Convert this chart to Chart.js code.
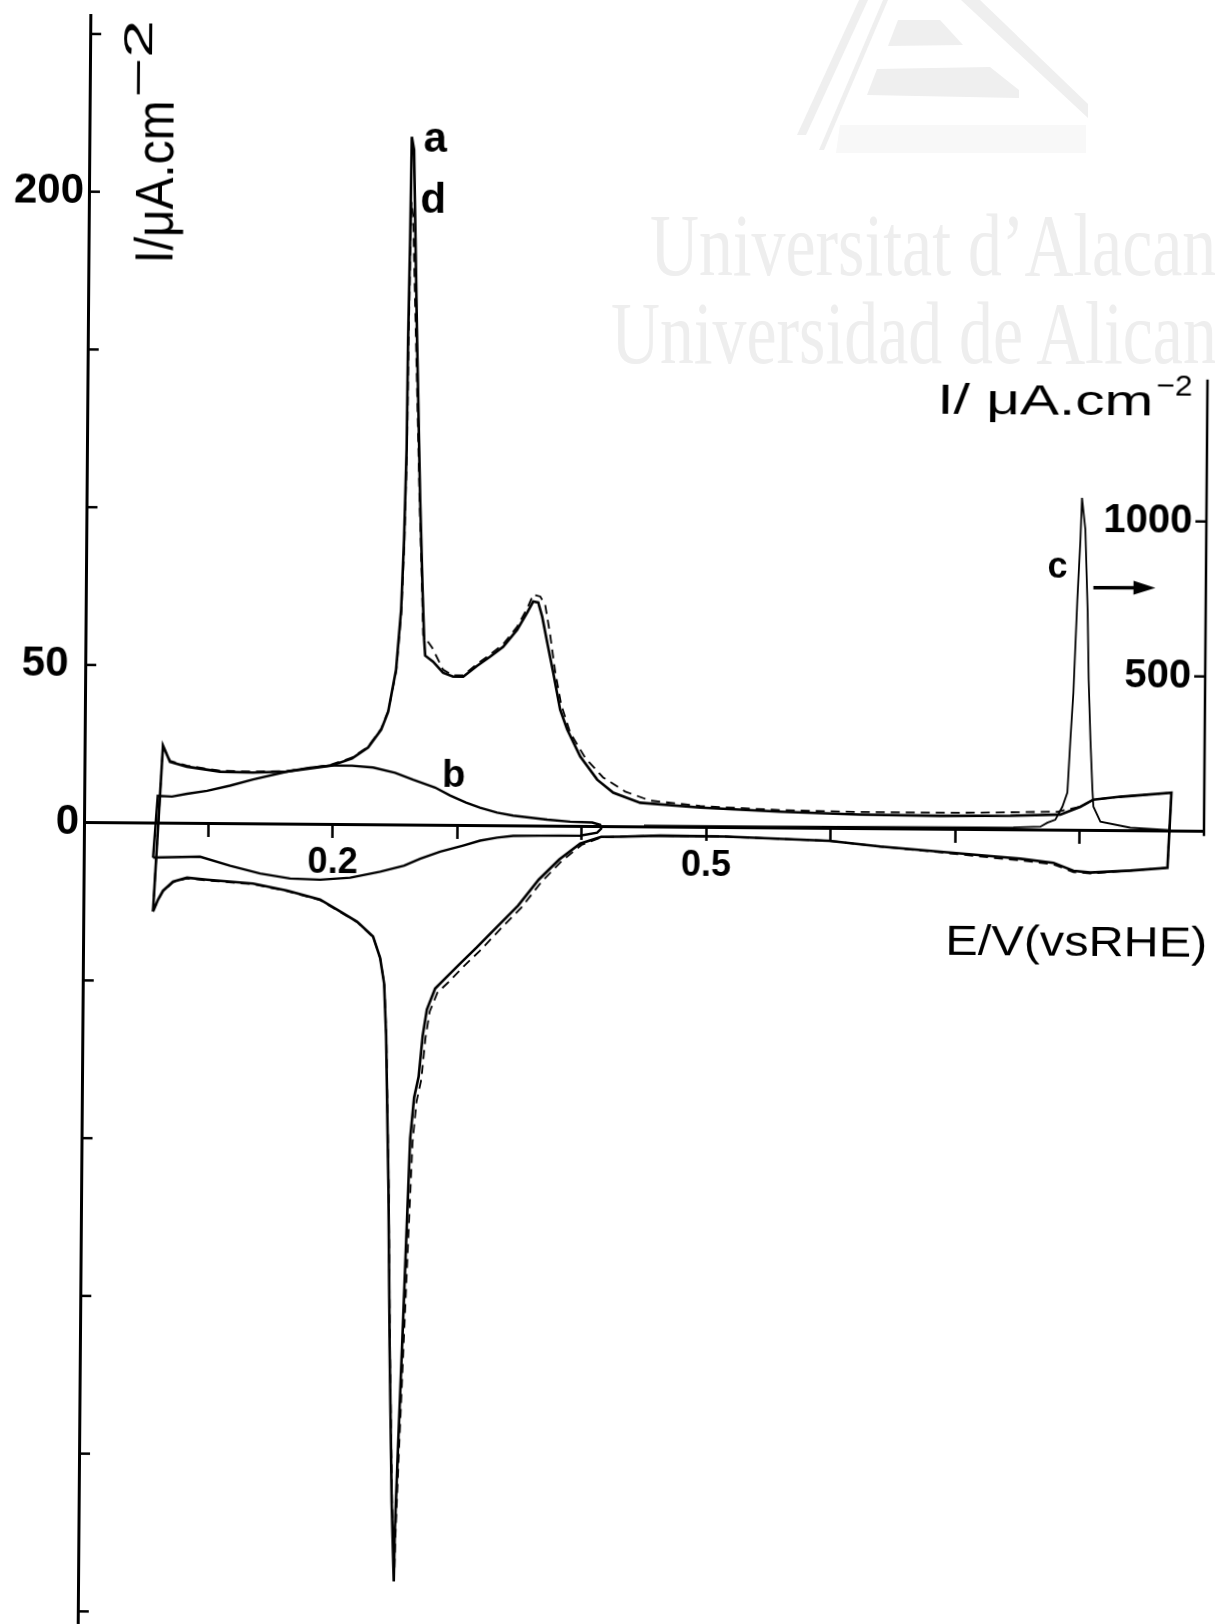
<!DOCTYPE html>
<html>
<head>
<meta charset="utf-8">
<title>Cyclic voltammograms a-d</title>
<script src="https://cdn.jsdelivr.net/npm/chart.js@4.4.1/dist/chart.umd.min.js"></script>
<style>
  html, body { margin: 0; padding: 0; background: #fff; overflow: hidden; }
  #wrap { position: relative; width: 1215px; height: 1624px; }
  #mark { position: absolute; left: 0; top: 0; }
  #chart { position: absolute; left: 0; top: 0; transform: rotate(0.45deg); transform-origin: 84px 823px; }
</style>
</head>
<body>
<div id="wrap">
  <svg id="mark" width="1215" height="1624">
    <g fill="#efefef">
      <polygon points="797,135 806,135 868,0 859,0"/>
      <polygon points="819,150 824,150 888,0 883,0"/>
      <polygon points="898,20 940,20 963,45 888,46"/>
      <polygon points="877,69 990,67 1019,90 1019,98 867,95"/>
      <polygon points="961,0 980,0 1088,104 1088,118"/>
    </g>
    <polygon points="840,125 1086,125 1086,153 836,153" fill="#f8f8f8"/>
    <text transform="translate(650,274.5) scale(0.77,1)" font-family="Liberation Serif" font-size="88" fill="#eeeeee">Universitat d’Alacant</text>
    <text transform="translate(611,362.5) scale(0.77,1)" font-family="Liberation Serif" font-size="88" fill="#eeeeee">Universidad de Alicante</text>
  </svg>
  <canvas id="chart" width="1215" height="1624"></canvas>
</div>
<script>
// E in V (vs RHE), I in uA cm-2

// curve a (solid), starts at the lower potential limit
const aE = [0.0560, 0.0630, 0.0687, 0.0824, 0.1090, 0.1355, 0.1629, 0.1813, 0.1982, 0.2150,
  0.2278, 0.2382, 0.2437, 0.2498, 0.2535, 0.2554, 0.2569, 0.2574, 0.2584, 0.2591,
  0.2610, 0.2646, 0.2681, 0.2706, 0.2722, 0.2731, 0.2795, 0.2876, 0.2957, 0.3038,
  0.3149, 0.3253, 0.3357, 0.3468, 0.3548, 0.3595, 0.3636, 0.3669, 0.3711, 0.3761,
  0.3819, 0.3877, 0.3983, 0.4121, 0.4251, 0.4468, 0.4951, 0.5594, 0.6238, 0.6881,
  0.7443, 0.7845, 0.8005, 0.8110, 0.8326, 0.8736, 0.8709, 0.8411, 0.8090, 0.7953,
  0.7792, 0.7526, 0.7341, 0.6883, 0.6400, 0.5990, 0.5154, 0.4631, 0.4309, 0.4157,
  0.3988, 0.3821, 0.3658, 0.3494, 0.3327, 0.3163, 0.3039, 0.2912, 0.2832, 0.2767,
  0.2735, 0.2705, 0.2670, 0.2641, 0.2615, 0.2589, 0.2562, 0.2542, 0.2537, 0.2515,
  0.2489, 0.2470, 0.2441, 0.2422, 0.2388, 0.2330, 0.2201, 0.2039, 0.1902, 0.1636,
  0.1362, 0.0992, 0.0831, 0.0719, 0.0639, 0.0600, 0.0560];
const aI = [-28.0, 24.6, 19.5, 18.0, 16.5, 16.3, 16.7, 17.7, 18.7, 21.0,
  24.5, 30.2, 35.9, 49.3, 68.3, 90.5, 119.0, 153.9, 185.6, 218.2,
  214.1, 153.9, 103.2, 74.7, 58.8, 53.8, 51.9, 48.4, 47.2, 47.2,
  50.7, 53.6, 56.8, 62.2, 67.7, 71.2, 70.9, 66.4, 58.2, 48.7,
  37.0, 30.7, 22.2, 14.9, 10.8, 7.7, 6.3, 5.2, 4.5, 4.3,
  4.5, 5.0, 7.5, 9.8, 10.8, 12.2, -11.6, -12.6, -13.3, -12.8,
  -10.3, -9.1, -8.5, -7.1, -5.6, -3.9, -2.8, -2.7, -3.1, -3.2,
  -5.4, -10.5, -16.9, -25.2, -31.9, -38.6, -43.4, -48.5, -51.7, -58.4,
  -66.7, -79.7, -86.3, -99.3, -132.3, -165.1, -198.0, -224.3, -239.7, -214.4,
  -165.2, -115.9, -66.8, -50.3, -42.1, -35.4, -30.7, -26.9, -23.8, -21.0,
  -18.9, -17.8, -17.2, -18.5, -21.4, -24.2, -28.0];

// curve d (dashed)
const dE = [0.0560, 0.0630, 0.0687, 0.0824, 0.1090, 0.1355, 0.1629, 0.1813, 0.1982, 0.2150,
  0.2278, 0.2382, 0.2440, 0.2500, 0.2538, 0.2557, 0.2572, 0.2578, 0.2586, 0.2593,
  0.2606, 0.2640, 0.2676, 0.2702, 0.2713, 0.2787, 0.2876, 0.2957, 0.3038, 0.3149,
  0.3253, 0.3357, 0.3468, 0.3548, 0.3595, 0.3652, 0.3692, 0.3734, 0.3777, 0.3827,
  0.3901, 0.4023, 0.4169, 0.4347, 0.4548, 0.4951, 0.5594, 0.6238, 0.6881, 0.7202,
  0.7821, 0.8005, 0.8110, 0.8326, 0.8736, 0.8709, 0.8411, 0.8090, 0.7953, 0.7792,
  0.7526, 0.7341, 0.6883, 0.6400, 0.5990, 0.5154, 0.4631, 0.4309, 0.4157, 0.4000,
  0.3840, 0.3680, 0.3520, 0.3350, 0.3190, 0.3060, 0.2935, 0.2850, 0.2790, 0.2757,
  0.2727, 0.2690, 0.2660, 0.2630, 0.2600, 0.2570, 0.2548, 0.2540, 0.2518, 0.2491,
  0.2472, 0.2443, 0.2424, 0.2390, 0.2332, 0.2203, 0.2040, 0.1903, 0.1637, 0.1362,
  0.0992, 0.0831, 0.0719, 0.0639, 0.0600, 0.0560];
const dI = [-28.0, 24.6, 19.8, 18.3, 16.8, 16.6, 16.9, 17.9, 19.0, 21.3,
  24.8, 30.5, 36.5, 49.0, 68.0, 90.0, 119.0, 153.0, 180.0, 197.6,
  193.0, 150.0, 103.0, 74.5, 60.4, 56.3, 49.4, 47.6, 47.6, 51.3,
  54.3, 57.6, 63.2, 69.0, 73.4, 72.8, 70.2, 60.7, 49.0, 38.6,
  29.7, 21.8, 15.6, 11.2, 8.4, 6.8, 5.7, 5.3, 5.3, 5.4,
  5.9, 7.5, 9.8, 10.8, 12.2, -11.6, -12.6, -13.6, -13.2, -10.8,
  -9.6, -9.0, -7.3, -5.6, -3.9, -2.8, -2.7, -3.1, -3.4, -5.8,
  -11.0, -17.6, -25.8, -32.8, -39.6, -44.6, -49.8, -53.0, -59.0, -67.5,
  -80.5, -87.5, -100.5, -133.0, -166.0, -199.0, -225.0, -238.0, -214.0, -165.0,
  -116.0, -67.0, -50.6, -42.4, -35.6, -30.9, -27.1, -24.0, -21.2, -19.1,
  -18.0, -17.4, -18.7, -21.6, -24.4, -28.0];

// curve b (solid, small)
const bE = [0.0557, 0.0591, 0.0706, 0.0826, 0.0987, 0.1171, 0.1356, 0.1629, 0.1813, 0.1982,
  0.2151, 0.2320, 0.2497, 0.2642, 0.2819, 0.2940, 0.3069, 0.3182, 0.3319, 0.3448,
  0.3722, 0.3907, 0.4084, 0.4148, 0.4156, 0.4124, 0.3988, 0.3666, 0.3449, 0.3321,
  0.3184, 0.3048, 0.2864, 0.2703, 0.2575, 0.2383, 0.2142, 0.1901, 0.1659, 0.1418,
  0.1177, 0.0935, 0.0557];
const bI = [-10.9, 8.7, 8.5, 9.4, 10.4, 12.1, 14.1, 16.7, 18.0, 18.7,
  18.7, 18.2, 16.6, 14.4, 12.0, 9.5, 7.3, 5.7, 4.2, 3.3,
  2.1, 1.5, 1.3, 0.6, -0.6, -1.9, -2.9, -3.0, -3.1, -3.7,
  -4.7, -6.3, -8.3, -10.6, -12.8, -14.8, -16.8, -17.5, -17.2, -15.7,
  -13.3, -10.5, -10.9];

// curve c, plotted on the right hand axis
const cE = [0.450, 0.550, 0.650, 0.720, 0.7468, 0.7685, 0.7741, 0.7805, 0.7861, 0.7900,
  0.7921, 0.7942, 0.7968, 0.7989, 0.7999, 0.8028, 0.8052, 0.8064, 0.8082, 0.8101,
  0.8110, 0.8167, 0.8408, 0.8731];
const cI = [5, 5, 6, 7, 8, 11, 24, 34, 76, 122,
  293, 444, 745, 938, 1073, 971, 703, 487, 293, 132,
  77, 29, 10, 3];

// axes
const xTicks = [0.1, 0.2, 0.3, 0.4, 0.5, 0.6, 0.7, 0.8];
const xLabelled = [0.2, 0.5];
const yTickMarks = [-250, -200, -150, -100, -50, 0, 50, 100, 150, 200, 250];
const yLabelled = [0, 50, 200];
const y2Ticks = [500, 1000];
const y2Line = [-15, 1458];

const FONT = '"Liberation Sans", Arial, sans-serif';

const pts = (E, I) => E.map((e, i) => ({x: e, y: I[i]}));

// no automatic label padding, the plot area is fixed by the layout padding
const noPad = s => { s.paddingTop = 0; s.paddingBottom = 0; s.paddingLeft = 0; s.paddingRight = 0; };

// draw text stretched to a given width
function fitText(ctx, text, x, y, width, angle) {
  const w = ctx.measureText(text).width;
  ctx.save();
  ctx.translate(x, y);
  if (angle) ctx.rotate(angle);
  ctx.scale(width / w, 1);
  ctx.fillText(text, 0, 0);
  ctx.restore();
}

const extras = {
  id: 'extras',
  afterDraw(chart) {
    const {ctx, chartArea: area, scales: {x, y, y2}} = chart;
    ctx.save();
    ctx.strokeStyle = '#000';
    ctx.fillStyle = '#000';
    ctx.lineCap = 'butt';

    // inward ticks on the left axis
    ctx.lineWidth = 2.5;
    yTickMarks.forEach(v => {
      const py = y.getPixelForValue(v);
      ctx.beginPath();
      ctx.moveTo(area.left, py);
      ctx.lineTo(area.left + 11, py);
      ctx.stroke();
    });

    // short right axis for curve c
    ctx.lineWidth = 2.5;
    ctx.beginPath();
    ctx.moveTo(area.right, y2.getPixelForValue(y2Line[0]));
    ctx.lineTo(area.right, y2.getPixelForValue(y2Line[1]));
    ctx.stroke();
    ctx.font = 'bold 40px ' + FONT;
    ctx.textAlign = 'right';
    ctx.textBaseline = 'middle';
    y2Ticks.forEach(v => {
      const py = y2.getPixelForValue(v);
      ctx.beginPath();
      ctx.moveTo(area.right - 11, py);
      ctx.lineTo(area.right, py);
      ctx.stroke();
      ctx.fillText(String(v), area.right - 14, py);
    });

    // curve letters
    ctx.textAlign = 'center';
    ctx.textBaseline = 'alphabetic';
    [['a', 0.2779, 213.6, 42], ['d', 0.2767, 194.2, 42], ['b', 0.2968, 12.3, 38], ['c', 0.7806, 80.1, 36]]
      .forEach(([t, e, i, s]) => {
        ctx.font = 'bold ' + s + 'px ' + FONT;
        ctx.fillText(t, x.getPixelForValue(e), y.getPixelForValue(i));
      });

    // arrow: c belongs to the right axis
    const ax0 = x.getPixelForValue(0.8096), ax1 = x.getPixelForValue(0.8595);
    const ay0 = y.getPixelForValue(77.0), ay1 = y.getPixelForValue(77.1);
    ctx.lineWidth = 3.5;
    ctx.beginPath();
    ctx.moveTo(ax0, ay0);
    ctx.lineTo(ax1 - 14, ay1);
    ctx.stroke();
    ctx.beginPath();
    ctx.moveTo(ax1, ay1);
    ctx.lineTo(ax1 - 22, ay1 - 7);
    ctx.lineTo(ax1 - 22, ay1 + 7);
    ctx.closePath();
    ctx.fill();

    // axis titles
    ctx.textAlign = 'left';
    ctx.font = '54px ' + FONT;
    fitText(ctx, 'I/μA.cm', x.getPixelForValue(0.0672), y.getPixelForValue(177.4), 163, -Math.PI / 2);
    ctx.font = '40px ' + FONT;
    fitText(ctx, '−2', x.getPixelForValue(0.0500), y.getPixelForValue(229.9), 78, -Math.PI / 2);

    ctx.font = '42px ' + FONT;
    fitText(ctx, 'I/ μA.cm', x.getPixelForValue(0.6831), y.getPixelForValue(131.8), 216);
    ctx.font = '30px ' + FONT;
    fitText(ctx, '−2', x.getPixelForValue(0.8590), y.getPixelForValue(138.0), 36);

    ctx.font = '42px ' + FONT;
    fitText(ctx, 'E/V(vsRHE)', x.getPixelForValue(0.6929), y.getPixelForValue(-39.7), 262);

    ctx.restore();
  }
};

const line = {showLine: true, pointRadius: 0, borderColor: '#000', backgroundColor: '#000', tension: 0, fill: false};

new Chart(document.getElementById('chart'), {
  type: 'scatter',
  data: {
    datasets: [
      Object.assign({label: 'a', data: pts(aE, aI), borderWidth: 2.6, yAxisID: 'y'}, line),
      Object.assign({label: 'd', data: pts(dE, dI), borderWidth: 1.8, borderDash: [9, 6], yAxisID: 'y'}, line),
      Object.assign({label: 'b', data: pts(bE, bI), borderWidth: 2.4, yAxisID: 'y'}, line),
      Object.assign({label: 'c', data: pts(cE, cI), borderWidth: 1.8, yAxisID: 'y2'}, line)
    ]
  },
  options: {
    responsive: false,
    animation: false,
    devicePixelRatio: 1,
    layout: {autoPadding: false, padding: {left: 0, right: 11, top: 15, bottom: 0}},
    plugins: {legend: {display: false}, tooltip: {enabled: false}},
    scales: {
      x: {
        type: 'linear', min: 0, max: 0.9,
        position: {y: 0},
        afterBuildTicks: s => { s.ticks = xTicks.map(v => ({value: v})); },
        afterFit: noPad,
        ticks: {
          autoSkip: false, maxRotation: 0, padding: 5, color: '#000',
          font: {family: FONT, size: 36, weight: 'bold'},
          callback: v => xLabelled.includes(Math.round(v * 10) / 10) ? v.toFixed(1) : ''
        },
        grid: {display: true, drawOnChartArea: false, drawTicks: true, tickLength: 12, tickWidth: 2.5, tickColor: '#000'},
        border: {display: true, color: '#000', width: 3}
      },
      y: {
        type: 'linear', position: 'left', min: -254, max: 256,
        afterBuildTicks: s => { s.ticks = yLabelled.map(v => ({value: v})); },
        afterFit: s => { s.width = 84; noPad(s); },
        ticks: {
          padding: 5, color: '#000',
          font: {family: FONT, size: 42, weight: 'bold'},
          callback: v => v === 50 ? '50 ' : String(v)
        },
        grid: {display: true, drawOnChartArea: false, drawTicks: false},
        border: {display: true, color: '#000', width: 3}
      },
      y2: {
        type: 'linear', position: 'right', min: -2586, max: 2606,
        afterFit: s => { s.width = 0; noPad(s); },
        ticks: {display: false},
        grid: {display: false, drawOnChartArea: false, drawTicks: false},
        border: {display: false}
      }
    }
  },
  plugins: [extras]
});
</script>
</body>
</html>
